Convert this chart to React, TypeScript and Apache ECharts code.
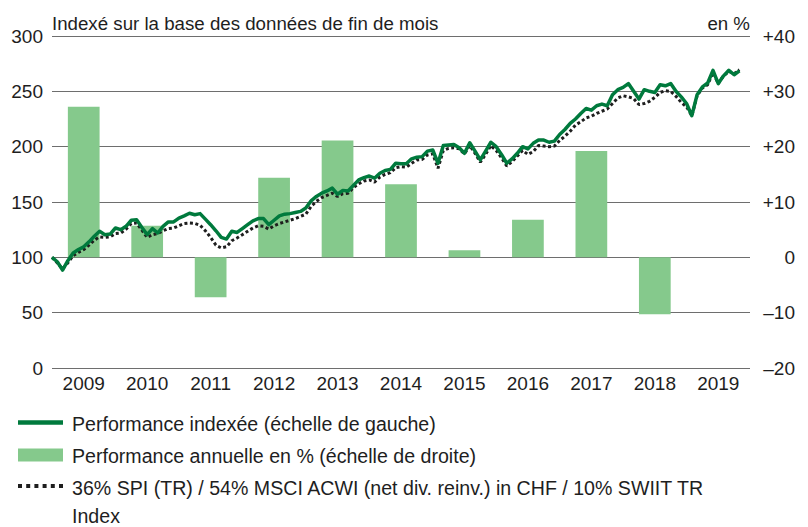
import React, { useEffect, useRef } from "react";
import * as echarts from "echarts";

// Year categories (bars) and annual performance in % (right scale)
const years = ["2009", "2010", "2011", "2012", "2013", "2014", "2015", "2016", "2017", "2018", "2019"];
const annualPerf: (number | null)[] = [27.2, 5.7, -7.2, 14.4, 21.1, 13.2, 1.3, 6.8, 19.2, -10.3, null];

// Monthly indexed performance (left scale), month 0 = end Dec 2008 ... month 130 = end Oct 2019
const indexed: number[] = [
  100, 96, 88.5, 97, 104, 107, 109.5, 114, 119, 123.5, 120.5, 121,
  126.5, 125, 128, 133.5, 134, 127, 120.5, 126, 122, 128, 132, 132,
  135.5, 137.5, 139.8, 138.5, 139.5, 134.5, 129.5, 124, 118, 116.5, 123.5, 122.5,
  126, 129.5, 133, 135, 135, 129.5, 133.5, 137.5, 139, 139.5, 140.5, 141.5,
  144.5, 151, 155, 158, 160, 162.5, 157, 160.5, 160, 165, 170, 172,
  173.5, 171.5, 176, 178.5, 179.5, 185, 184.5, 184.5, 189, 190.5, 191, 196,
  197, 185, 201, 201.5, 202, 199, 194, 203.5, 196, 188, 196, 204,
  200, 193, 185, 189, 194, 200, 198, 203, 206, 206, 204, 205,
  211, 215.5, 221, 225, 230, 234.5, 233, 237, 238.5, 237, 247, 251.5,
  253.5, 257, 250, 243, 251.5, 250, 249, 256, 255, 257, 250, 245,
  239, 228, 247, 254, 257.5, 269, 257, 264, 269, 265, 268.5,
];

// Monthly benchmark (dotted)
const benchmark: number[] = [
  100, 95, 89.5, 95, 101.5, 104.5, 107, 111, 115.5, 118.5, 118, 118.5,
  121.5, 122, 125.5, 130.5, 131, 124.5, 118, 120.5, 121.5, 124, 126, 126.5,
  128.5, 130.5, 131, 130.7, 129, 124, 118, 111, 108.5, 109.6, 115, 117.5,
  120.5, 123.5, 126.5, 128.5, 128, 125.5, 128.5, 130.5, 132, 133.5, 135, 137,
  139, 146, 150.5, 154, 156, 158, 155, 157.5, 158, 163, 166.5, 169,
  170, 168, 172.5, 175, 176.5, 181, 182, 181.5, 185, 188, 188.5, 192.5,
  193.5, 180.5, 196.5, 198.5, 199, 198, 193.5, 201, 194, 186, 193, 201,
  196.5, 190, 182.5, 186.5, 191.5, 196.5, 193, 195.5, 201, 200.5, 200, 200.5,
  205.5, 209.5, 214, 219.5, 222.5, 226, 227.5, 230, 232, 234, 239, 244,
  246, 245, 243.5, 238, 239, 241, 244.5, 249, 250.5, 250, 245.5, 240,
  236, 228, 246, 253, 256, 267, 257, 264, 268, 266, 269.5,
];

const legendLabels = [
  "Performance indexée (échelle de gauche)",
  "Performance annuelle en % (échelle de droite)",
  "36% SPI (TR) / 54% MSCI ACWI (net div. reinv.) in CHF / 10% SWIIT TR",
  "Index",
];

const FONT = "'Liberation Sans', Arial, Helvetica, sans-serif";
const TEXT = "#1e1e1e";
const GRID = "#6e6e6e";
const GREEN = "#007a3d";
const BAR = "#85c98c";
const DOT = "#1e1e1e";

export default function App() {
  const ref = useRef<HTMLDivElement>(null);
  useEffect(() => {
    if (!ref.current) return;
    const chart = echarts.init(ref.current, null, { renderer: "svg" });
    const legendText = (label: string, y: number) => ({
      type: "text",
      x: 72,
      y,
      style: {
        text: label,
        fill: TEXT,
        font: `19.6px ${FONT}`,
        textAlign: "left",
        textVerticalAlign: "middle",
      },
    });
    chart.setOption({
      animation: false,
      grid: { left: 52, right: 58, top: 36, bottom: 159, containLabel: false },
      xAxis: [
        {
          type: "category",
          data: years,
          axisLine: { show: false },
          axisTick: { show: false },
          axisLabel: { color: TEXT, fontFamily: FONT, fontSize: 19, margin: 6 },
          splitLine: { show: false },
        },
        { type: "value", min: 0, max: 132, show: false },
      ],
      yAxis: [
        {
          type: "value",
          min: 0,
          max: 300,
          interval: 50,
          position: "left",
          axisLine: { show: false },
          axisTick: { show: false },
          axisLabel: { color: TEXT, fontFamily: FONT, fontSize: 19, margin: 9 },
          splitLine: { show: true, lineStyle: { color: GRID, width: 1.2 } },
        },
        {
          type: "value",
          min: -20,
          max: 40,
          interval: 10,
          position: "right",
          axisLine: { show: false },
          axisTick: { show: false },
          splitLine: { show: false },
          axisLabel: {
            color: TEXT,
            fontFamily: FONT,
            fontSize: 19,
            align: "right",
            margin: 45,
            formatter: (v: number) => (v > 0 ? "+" + v : v < 0 ? "\u2013" + Math.abs(v) : "0"),
          },
        },
      ],
      series: [
        {
          name: legendLabels[1],
          type: "bar",
          xAxisIndex: 0,
          yAxisIndex: 1,
          data: annualPerf.map((v) => (v === null ? "-" : v)),
          barWidth: "50%",
          itemStyle: { color: BAR },
          z: 1,
        },
        {
          name: legendLabels[2],
          type: "line",
          xAxisIndex: 1,
          yAxisIndex: 0,
          data: benchmark.map((v, i) => [i, v]),
          symbol: "none",
          lineStyle: { color: DOT, width: 3, type: [3, 2.5], cap: "butt" },
          z: 3,
        },
        {
          name: legendLabels[0],
          type: "line",
          xAxisIndex: 1,
          yAxisIndex: 0,
          data: indexed.map((v, i) => [i, v]),
          symbol: "none",
          lineStyle: { color: GREEN, width: 3.5, join: "round" },
          z: 4,
        },
      ],
      graphic: [
        {
          type: "text",
          x: 52,
          y: 23,
          style: {
            text: "Indexé sur la base des données de fin de mois",
            fill: TEXT,
            font: `18.7px ${FONT}`,
            textAlign: "left",
            textVerticalAlign: "middle",
          },
        },
        {
          type: "text",
          x: 750,
          y: 23,
          style: {
            text: "en %",
            fill: TEXT,
            font: `18.7px ${FONT}`,
            textAlign: "right",
            textVerticalAlign: "middle",
          },
        },
        {
          type: "line",
          shape: { x1: 18, y1: 422.5, x2: 63, y2: 422.5 },
          style: { stroke: GREEN, lineWidth: 4.5 },
        },
        {
          type: "rect",
          shape: { x: 18, y: 448.5, width: 45, height: 13 },
          style: { fill: BAR },
        },
        {
          type: "line",
          shape: { x1: 18, y1: 486, x2: 63, y2: 486 },
          style: { stroke: DOT, lineWidth: 4, lineDash: [4, 4.2] },
        },
        legendText(legendLabels[0], 424),
        legendText(legendLabels[1], 455.5),
        legendText(legendLabels[2], 487.5),
        legendText(legendLabels[3], 516),
      ],
    });
    return () => chart.dispose();
  }, []);
  return (
    <div
      ref={ref}
      style={{ position: "fixed", left: 0, top: 0, width: 808, height: 527, background: "#fff" }}
    />
  );
}
